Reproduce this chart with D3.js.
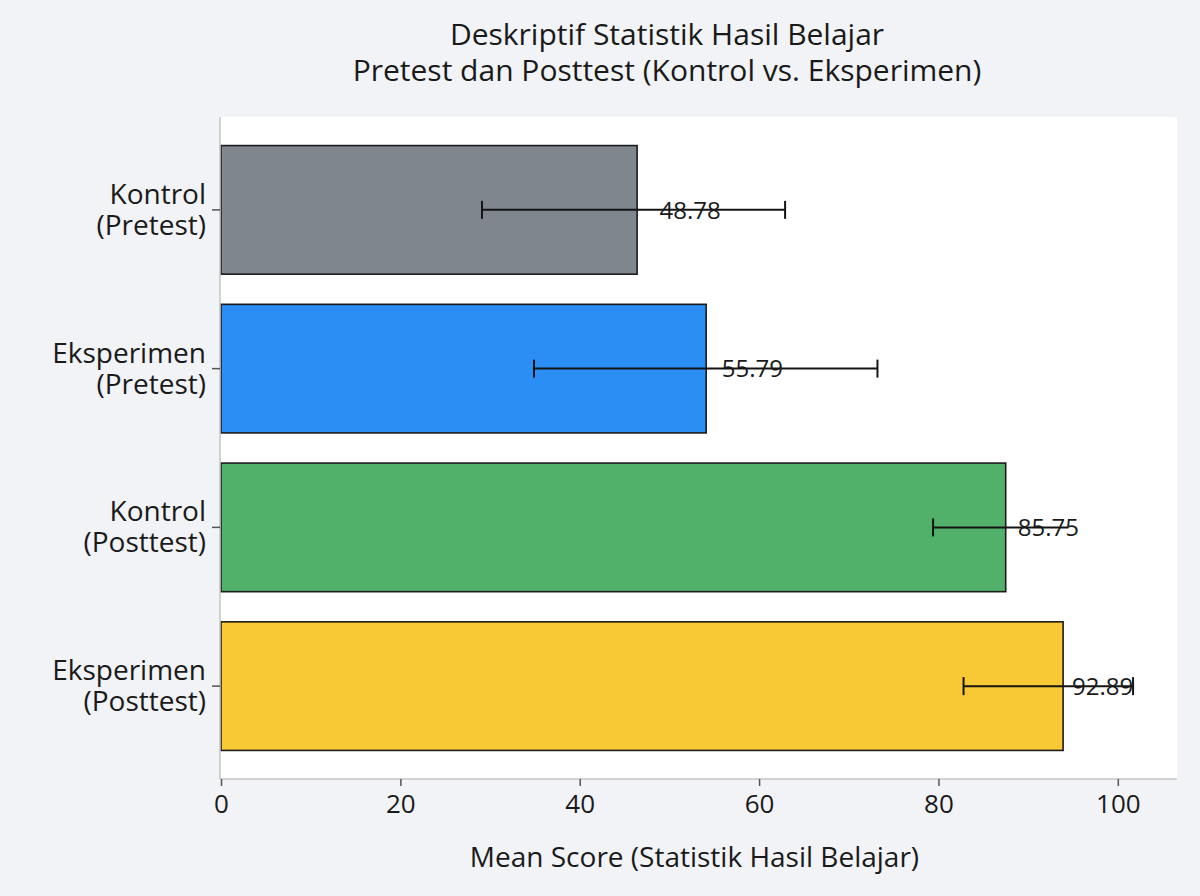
<!DOCTYPE html>
<html>
<head>
	<meta charset="utf-8" />
	<title>Deskriptif Statistik Hasil Belajar</title>
	<script src="https://cdn.jsdelivr.net/npm/d3@7/dist/d3.min.js"></script>
	<style>
		body {
			margin: 0;
			background-color: #f1f3f6;
		}
		svg text {
			font-family: 'Open Sans', sans-serif;
			fill: #1a1a1a;
		}
	</style>
</head>
<body>
	<svg id="chart" width="1200" height="896"></svg>

	<script>
		// data
		var groups = ["Kontrol", "Eksperimen", "Kontrol", "Eksperimen"];
		var phases = ["(Pretest)", "(Pretest)", "(Posttest)", "(Posttest)"];
		var means = [46.4, 54.1, 87.5, 93.9];
		var errLow = [29.1, 34.9, 79.4, 82.8];
		var errHigh = [62.9, 73.2, 94.5, 101.7];
		var capHigh = [true, true, false, true];
		var valueLabels = ["48.78", "55.79", "85.75", "92.89"];
		var labelAt = [48.9, 55.85, 88.85, 94.9];
		var colors = ["#80868e", "#2b8ef5", "#51b06a", "#f9c935"];
		var xTicks = [0, 20, 40, 60, 80, 100];

		var svg = d3.select("#chart");

		var plot = { left: 220, right: 1177, top: 117, bottom: 779 };

		var x = d3.scaleLinear()
			.domain([0, 106.6])
			.range([plot.left + 1, plot.right]);

		var y = d3.scaleBand()
			.domain(d3.range(groups.length))
			.range([plot.top, plot.bottom])
			.paddingInner(0.19)
			.paddingOuter(0.18);

		// plot background
		svg.append("rect")
			.attr("x", plot.left)
			.attr("y", plot.top)
			.attr("width", plot.right - plot.left)
			.attr("height", plot.bottom - plot.top)
			.attr("fill", "#ffffff");

		// bars
		svg.append("g")
			.selectAll("rect")
			.data(means)
			.join("rect")
			.attr("x", x(0))
			.attr("y", function (d, i) { return y(i); })
			.attr("width", function (d) { return x(d) - x(0); })
			.attr("height", y.bandwidth())
			.attr("fill", function (d, i) { return colors[i]; })
			.attr("stroke", "#1c1c1c")
			.attr("stroke-width", 1.6);

		// error bars
		var err = svg.append("g")
			.attr("stroke", "#141414")
			.attr("stroke-width", 2);

		means.forEach(function (d, i) {
			var cy = y(i) + y.bandwidth() / 2;
			err.append("line")
				.attr("x1", x(errLow[i])).attr("x2", x(errHigh[i]))
				.attr("y1", cy).attr("y2", cy);
			err.append("line")
				.attr("x1", x(errLow[i])).attr("x2", x(errLow[i]))
				.attr("y1", cy - 9).attr("y2", cy + 9);
			if (capHigh[i]) {
				err.append("line")
					.attr("x1", x(errHigh[i])).attr("x2", x(errHigh[i]))
					.attr("y1", cy - 9).attr("y2", cy + 9);
			}
		});

		// value labels
		svg.append("g")
			.selectAll("text")
			.data(valueLabels)
			.join("text")
			.attr("x", function (d, i) { return x(labelAt[i]); })
			.attr("y", function (d, i) { return y(i) + y.bandwidth() / 2; })
			.attr("dy", "0.36em")
			.attr("font-size", 24)
			.text(function (d) { return d; });

		// spines
		svg.append("line")
			.attr("x1", plot.left).attr("x2", plot.left)
			.attr("y1", plot.top).attr("y2", plot.bottom)
			.attr("stroke", "#c4c4c4").attr("stroke-width", 1.5);

		// x axis
		var xAxis = svg.append("g")
			.attr("transform", "translate(0," + plot.bottom + ")")
			.call(d3.axisBottom(x).tickValues(xTicks).tickSize(7).tickPadding(9));
		xAxis.select(".domain")
			.attr("d", "M" + plot.left + ",0H" + plot.right)
			.attr("stroke", "#c4c4c4").attr("stroke-width", 1.5);
		xAxis.selectAll(".tick line").attr("stroke", "#555").attr("stroke-width", 1.5);
		xAxis.selectAll(".tick text")
			.attr("font-size", 26)
			.attr("font-family", "'Open Sans', sans-serif")
			.attr("fill", "#1a1a1a");

		// y category labels
		var yLab = svg.append("g");
		groups.forEach(function (g, i) {
			var cy = y(i) + y.bandwidth() / 2;
			yLab.append("line")
				.attr("x1", plot.left - 8).attr("x2", plot.left)
				.attr("y1", cy).attr("y2", cy)
				.attr("stroke", "#555").attr("stroke-width", 1.5);
			var t = yLab.append("text")
				.attr("text-anchor", "end")
				.attr("font-size", 28);
			t.append("tspan").attr("x", plot.left - 14).attr("y", cy - 6).text(g);
			t.append("tspan").attr("x", plot.left - 14).attr("y", cy + 25).text(phases[i]);
		});

		// axis title
		svg.append("text")
			.attr("x", (plot.left + plot.right) / 2 - 4)
			.attr("y", 867)
			.attr("text-anchor", "middle")
			.attr("font-size", 28)
			.text("Mean Score (Statistik Hasil Belajar)");

		// chart title
		var title = svg.append("text")
			.attr("text-anchor", "middle")
			.attr("font-size", 30);
		title.append("tspan").attr("x", 667).attr("y", 45).text("Deskriptif Statistik Hasil Belajar");
		title.append("tspan").attr("x", 667).attr("y", 81).text("Pretest dan Posttest (Kontrol vs. Eksperimen)");
	</script>
</body>
</html>
